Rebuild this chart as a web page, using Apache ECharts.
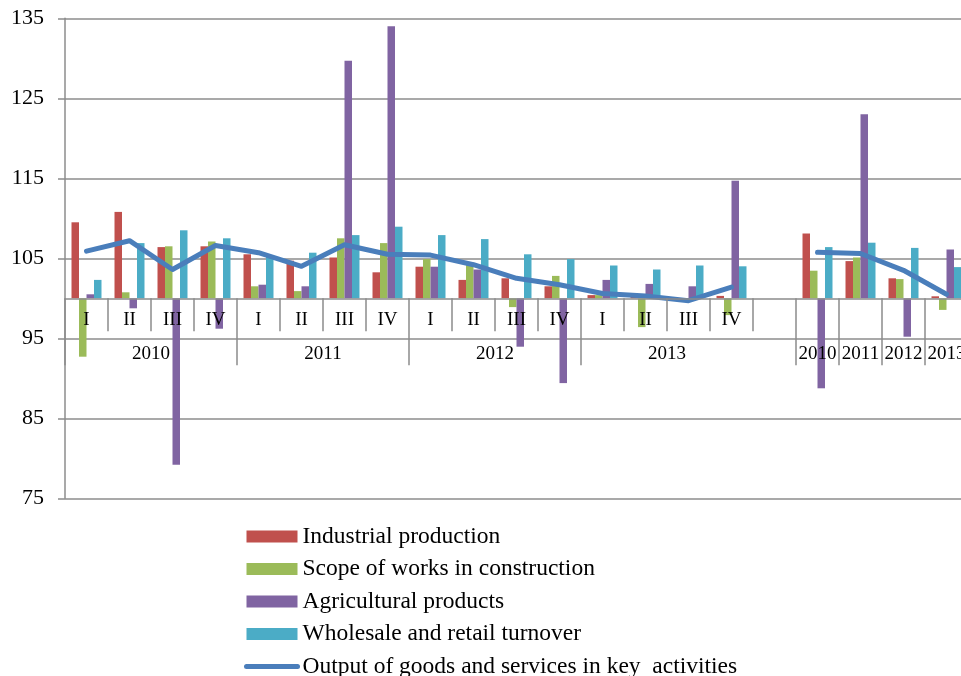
<!DOCTYPE html>
<html>
<head>
<meta charset="utf-8">
<script src="https://cdn.jsdelivr.net/npm/echarts@6/dist/echarts.min.js"></script>
<style>
  html, body { margin: 0; padding: 0; background: #fff; }
  #chart { width: 961px; height: 676px; }
</style>
</head>
<body>
<div id="chart"></div>
<script>
// Periods
const years = ['2010', '2011', '2012', '2013'];
const quarters = ['I', 'II', 'III', 'IV'];

// Quarterly indices, 2010 I .. 2013 IV (same period of previous year = 100)
const industryQ     = [109.5, 110.8, 106.4, 106.5, 105.5, 104.7, 105.1, 103.25, 103.95, 102.3, 102.5, 101.5, 100.4, 100.2, 100.0, 100.3];
const constructionQ = [92.7, 100.75, 106.5, 107.1, 101.5, 100.9, 107.5, 106.9, 104.9, 104.5, 98.9, 102.8, 100.4, 96.4, 99.9, 97.9];
const agricultureQ  = [100.5, 98.75, 79.2, 96.2, 101.7, 101.5, 129.7, 134.0, 103.95, 103.6, 93.95, 89.4, 102.3, 101.8, 101.5, 114.7];
const tradeQ        = [102.3, 106.9, 108.5, 107.5, 105.2, 105.7, 107.9, 108.95, 107.9, 107.4, 105.5, 104.9, 104.1, 103.6, 104.1, 104.0];
const outputQ       = [105.9, 107.2, 103.6, 106.6, 105.7, 104.0, 106.7, 105.5, 105.4, 104.2, 102.5, 101.7, 100.6, 100.3, 99.7, 101.4];

// Annual indices, 2010 .. 2013
const industryY     = [108.1, 104.65, 102.5, 100.25];
const constructionY = [103.45, 105.1, 102.4, 98.55];
const agricultureY  = [88.75, 123.0, 95.2, 106.1];
const tradeY        = [106.4, 106.95, 106.3, 103.9];
const outputY       = [105.75, 105.6, 103.5, 100.5];

// Bars grow up or down from this level
const BASE = 100;

const FONT = "'Liberation Serif', 'Times New Roman', serif";
const GRID_COLOR = '#8c8c8c';
const LINE_COLOR = '#4a7ebb';

// Category keys: 16 quarters, one empty slot, 4 years
const quarterKeys = years.flatMap(y => quarters.map(q => y + ' ' + q));
const yearKeys = years.map(y => y + ' total');
const categories = quarterKeys.concat(['gap'], yearKeys);
const nQ = quarterKeys.length;

function joined(q, y) { return q.concat([null], y); }

// Each bar series is stacked on an invisible column up to BASE,
// so its visible part spans BASE .. value
function barSeries(name, color, q, y) {
  const values = joined(q, y);
  return [
    {
      type: 'bar', name: name + '__base', stack: name, stackStrategy: 'all',
      data: values.map(v => v == null ? null : BASE),
      itemStyle: { color: 'rgba(0,0,0,0)' },
      barWidth: 7.5, barGap: '0%', silent: true, z: 2
    },
    {
      type: 'bar', name: name, stack: name, stackStrategy: 'all',
      data: values.map(v => v == null ? null : +(v - BASE).toFixed(3)),
      itemStyle: { color: color },
      barWidth: 7.5, barGap: '0%', z: 2
    }
  ];
}

const names = [
  'Industrial production',
  'Scope of works in construction',
  'Agricultural products',
  'Wholesale and retail turnover',
  'Output of goods and services in key  activities'
];

const series = [].concat(
  barSeries(names[0], '#c0504d', industryQ, industryY),
  barSeries(names[1], '#9bbb59', constructionQ, constructionY),
  barSeries(names[2], '#8064a2', agricultureQ, agricultureY),
  barSeries(names[3], '#4bacc6', tradeQ, tradeY),
  [{
    type: 'line', name: names[4],
    data: joined(outputQ, outputY),
    symbol: 'none', connectNulls: false, z: 5,
    lineStyle: { color: LINE_COLOR, width: 5, cap: 'round', join: 'round' },
    itemStyle: { color: LINE_COLOR }
  }]
);

// Ticks of the year row: group edges for quarters, every annual cell
const yearTickIdx = [0, 4, 8, 12, 17, 18, 19, 20];

const chart = echarts.init(document.getElementById('chart'), null, { renderer: 'canvas' });
const plotHeight = 480;
const axisShift = -plotHeight * (BASE - 75) / (135 - 75);

chart.setOption({
  animation: false,
  backgroundColor: '#fff',
  grid: { left: 65, right: -7, top: 18.3, height: plotHeight, containLabel: false, outerBoundsMode: 'none' },
  legend: {
    orient: 'vertical',
    left: 244, top: 524.5, height: 300, padding: 0,
    itemWidth: 51, itemHeight: 12, itemGap: 8.5,
    data: names.map((n, i) => i < 4
      ? { name: n, icon: 'rect' }
      : {
          name: n,
          itemStyle: { color: 'rgba(0,0,0,0)', borderWidth: 0, opacity: 0 },
          lineStyle: { color: LINE_COLOR, width: 5, cap: 'round' }
        }),
    textStyle: { fontFamily: FONT, fontSize: 23.5, color: '#000', lineHeight: 23 },
    selectedMode: false
  },
  xAxis: [
    {
      type: 'category', data: categories, position: 'bottom', offset: axisShift,
      boundaryGap: true, z: 10,
      axisLine: { show: true, lineStyle: { color: GRID_COLOR, width: 1.5 } },
      axisTick: { show: true, interval: 0, length: 33, lineStyle: { color: GRID_COLOR, width: 1.5 } },
      axisLabel: {
        interval: 0, margin: 12, color: '#000', fontFamily: FONT, fontSize: 19,
        formatter: (v, i) => i < nQ ? quarters[i % 4] : ''
      },
      splitLine: { show: false }
    },
    {
      type: 'category', data: categories, position: 'bottom', offset: axisShift,
      boundaryGap: true, z: 10,
      axisLine: { show: false },
      axisTick: {
        show: true, length: 67,
        interval: (i) => yearTickIdx.indexOf(i) >= 0,
        lineStyle: { color: GRID_COLOR, width: 1.5 }
      },
      axisLabel: {
        interval: 0, margin: 46, color: '#000', fontFamily: FONT, fontSize: 19,
        formatter: (v, i) => {
          if (i < nQ) return (i % 4 === 1) ? '{q|' + years[Math.floor(i / 4)] + '}' : '';
          if (i > nQ) return '{a|' + years[i - nQ - 1] + '}';
          return '';
        },
        rich: {
          q: { fontFamily: FONT, fontSize: 19, color: '#000', padding: [0, 0, 0, 43] },
          a: { fontFamily: FONT, fontSize: 19, color: '#000' }
        }
      },
      splitLine: { show: false }
    }
  ],
  yAxis: {
    type: 'value', min: 75, max: 135, interval: 10,
    axisLine: { show: true, lineStyle: { color: GRID_COLOR, width: 1.5 } },
    axisTick: { show: true, length: 7, lineStyle: { color: GRID_COLOR, width: 1.5 } },
    axisLabel: { margin: 21, color: '#000', fontFamily: FONT, fontSize: 22 },
    splitLine: { show: true, lineStyle: { color: GRID_COLOR, width: 1.5 } }
  },
  series: series
});
</script>
</body>
</html>
